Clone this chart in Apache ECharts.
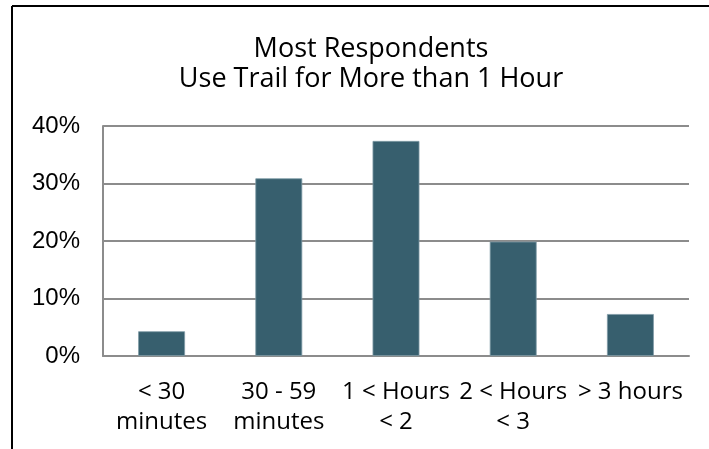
<!DOCTYPE html>
<html>
<head>
<meta charset="utf-8">
<script src="https://cdn.jsdelivr.net/npm/echarts@6/dist/echarts.min.js"></script>
<style>
html, body { margin: 0; padding: 0; background: #fff; }
#chart { width: 709px; height: 449px; }
</style>
</head>
<body>
<div id="chart"></div>
<script>
var dom = document.getElementById("chart");
var myChart = echarts.init(dom);

// categories and share of respondents (%)
var categories = ['< 30\nminutes', '30 - 59\nminutes', '1 < Hours\n< 2', '2 < Hours\n< 3', '> 3 hours'];
var shares = [4.3, 30.9, 37.4, 19.9, 7.3];
var yTicks = [0, 10, 20, 30, 40];

var labelFont = '"Open Sans", "Noto Sans", sans-serif';

var option = {
    animation: false,
    title: {
        text: 'Most Respondents\nUse Trail for More than 1 Hour',
        left: 366,
        top: 29,
        textAlign: 'center',
        textStyle: {
            fontFamily: labelFont,
            fontWeight: 'normal',
            fontSize: 27,
            lineHeight: 30,
            color: '#000'
        }
    },
    grid: {
        left: 103,
        right: 20,
        top: 126,
        bottom: 93
    },
    xAxis: {
        type: 'category',
        data: categories,
        axisLine: { lineStyle: { color: '#8c8c8c', width: 2 } },
        axisTick: { show: false },
        axisLabel: {
            interval: 0,
            margin: 21,
            fontFamily: labelFont,
            fontSize: 24,
            lineHeight: 30,
            color: '#000'
        }
    },
    yAxis: {
        type: 'value',
        min: yTicks[0],
        max: yTicks[yTicks.length - 1],
        interval: 10,
        axisLine: { show: true, lineStyle: { color: '#8c8c8c', width: 2 } },
        axisTick: { show: false },
        splitLine: { lineStyle: { color: '#8c8c8c', width: 2 } },
        axisLabel: {
            margin: 23,
            fontFamily: '"Liberation Sans", Arial, sans-serif',
            fontSize: 24,
            color: '#000',
            formatter: function (v) { return v + '%'; }
        }
    },
    graphic: [
        { type: 'line', shape: { x1: 12, y1: 6, x2: 709, y2: 6 }, style: { stroke: '#000', lineWidth: 2 } },
        { type: 'line', shape: { x1: 12, y1: 6, x2: 12, y2: 449 }, style: { stroke: '#000', lineWidth: 2 } }
    ],
    series: [{
        type: 'bar',
        data: shares,
        barWidth: '40%',
        itemStyle: {
            color: '#375f6e',
            borderColor: '#7f9ba6',
            borderWidth: 0.8
        }
    }]
};
myChart.setOption(option, true);
</script>
</body>
</html>
